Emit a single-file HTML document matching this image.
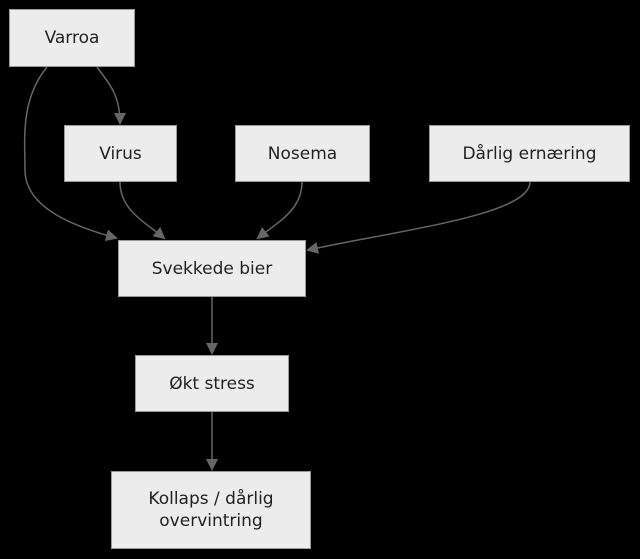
<!DOCTYPE html>
<html><head><style>
body{margin:0;background:#000;width:640px;height:559px;overflow:hidden;font-family:"DejaVu Sans","Liberation Sans",sans-serif}
.n{position:absolute;background:#ececec;border:1px solid #999;box-sizing:border-box;display:flex;align-items:center;justify-content:center;text-align:center;font-size:17px;color:#222;line-height:22px}
svg{position:absolute;left:0;top:0}
</style></head><body>
<svg width="640" height="559">
<defs><marker id="a" markerWidth="12" markerHeight="12" refX="10" refY="6" orient="auto" markerUnits="userSpaceOnUse"><path d="M0,0L12,6L0,12z" fill="#666"/></marker></defs>
<g fill="none" stroke="#666" stroke-width="1.5" marker-end="url(#a)">
<path d="M47,67 C20,100 25,140 25,170 C25,210 80,228 116,238"/>
<path d="M97,67 C110,85 120,95 120,123"/>
<path d="M120,182 C120,210 145,222 164,238"/>
<path d="M302,182 C302,210 278,222 258,238"/>
<path d="M530,182 C530,215 400,230 308,250"/>
<path d="M212,297 L212,353"/>
<path d="M212,412 L212,469"/>
</g>
</svg>
<div class="n" style="left:9px;top:9px;width:126px;height:58px">Varroa</div>
<div class="n" style="left:64px;top:125px;width:113px;height:57px">Virus</div>
<div class="n" style="left:235px;top:125px;width:135px;height:57px">Nosema</div>
<div class="n" style="left:429px;top:125px;width:201px;height:57px">Dårlig ernæring</div>
<div class="n" style="left:118px;top:240px;width:188px;height:57px">Svekkede bier</div>
<div class="n" style="left:135px;top:355px;width:154px;height:57px">Økt stress</div>
<div class="n" style="left:111px;top:471px;width:200px;height:78px">Kollaps / dårlig<br>overvintring</div>
</body></html>
